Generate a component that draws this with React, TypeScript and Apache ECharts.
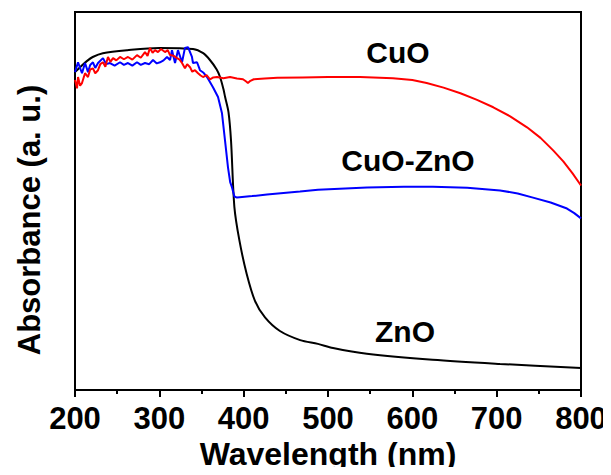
import React, { useEffect, useRef } from "react";
import * as echarts from "echarts";

const xTicks = [200, 300, 400, 500, 600, 700, 800];

const znoData: [number, number][] = [
  [200, 0.841], [206, 0.854], [214, 0.870], [221, 0.881], [233, 0.891], [262, 0.899],
  [300, 0.905], [340, 0.902], [352, 0.891], [360, 0.873], [368, 0.848], [372, 0.828],
  [376, 0.796], [378, 0.775], [382, 0.735], [385, 0.66], [389, 0.484], [395, 0.395],
  [403.6, 0.307], [413.4, 0.236], [425.3, 0.192], [443, 0.156], [467, 0.132],
  [488, 0.122], [506, 0.111], [546, 0.096], [624, 0.08], [704, 0.069], [800, 0.058],
];

const cuoData: [number, number][] = [
  [200, 0.82], [202.4, 0.798], [203.6, 0.828], [206, 0.805], [208.3, 0.812], [211.9, 0.838],
  [215.4, 0.828], [218, 0.848], [221.3, 0.851], [224, 0.838], [227.3, 0.846], [230, 0.862],
  [233.2, 0.867], [236, 0.855], [239.1, 0.881], [242, 0.868], [245.1, 0.878], [249, 0.872],
  [253.4, 0.881], [258, 0.875], [262.8, 0.881], [268, 0.874], [273.5, 0.886], [278, 0.879],
  [283, 0.894], [286, 0.884], [288.9, 0.905], [292, 0.892], [294.9, 0.899], [298.4, 0.894],
  [302, 0.902], [306.7, 0.894], [310, 0.899], [312.7, 0.886], [317, 0.884], [321, 0.878],
  [324, 0.874], [326.9, 0.865], [330.4, 0.851], [333, 0.862], [336.4, 0.854], [339, 0.842],
  [342.3, 0.846], [345.9, 0.838], [349, 0.832], [351.8, 0.828], [356, 0.833], [360.1, 0.822],
  [364, 0.827], [368.4, 0.828], [376, 0.825], [383.8, 0.828], [392, 0.824], [399.2, 0.822],
  [403, 0.816], [405, 0.812], [408, 0.818], [412, 0.822], [425, 0.824], [440, 0.826],
  [470, 0.827], [500, 0.828], [538, 0.828], [577, 0.825], [600, 0.82], [617, 0.812],
  [637, 0.8], [657, 0.785], [676, 0.768], [696, 0.748], [716, 0.724], [736, 0.695],
  [752, 0.667], [767, 0.634], [779, 0.605], [790, 0.573], [800, 0.541],
];

const cuoZnoData: [number, number][] = [
  [200, 0.841], [203.6, 0.867], [208.3, 0.838], [211.9, 0.865], [215.4, 0.841],
  [218, 0.86], [221.3, 0.867], [224, 0.852], [227.3, 0.865], [233.2, 0.878], [237, 0.862],
  [241.5, 0.865], [247, 0.858], [253.4, 0.867], [258, 0.86], [262.8, 0.865], [268, 0.858],
  [273.5, 0.867], [278, 0.86], [283, 0.865], [288, 0.862], [292.5, 0.873], [297, 0.864],
  [300.8, 0.867], [305, 0.872], [309.1, 0.881], [312.7, 0.873], [315, 0.899], [318.6, 0.865],
  [322.1, 0.899], [326.9, 0.867], [330.4, 0.905], [334, 0.907], [338.7, 0.881], [339.9, 0.865],
  [344.7, 0.867], [348.2, 0.846], [352, 0.84], [356.5, 0.828], [360, 0.815], [363.6, 0.801],
  [369.6, 0.775], [374.3, 0.732], [377.9, 0.66], [381.4, 0.589], [384, 0.55], [386.2, 0.536],
  [389, 0.512], [392.1, 0.509], [410, 0.513], [427.7, 0.517], [466.8, 0.525], [488.1, 0.53],
  [546.3, 0.536], [590, 0.538], [624.5, 0.538], [665, 0.535], [704, 0.528], [725, 0.52],
  [743.1, 0.509], [764, 0.496], [783.4, 0.48], [792, 0.468], [800, 0.454],
];

const seriesNames = ["CuO", "CuO-ZnO", "ZnO"];
const seriesColors = ["#ff0000", "#0000ff", "#000000"];

const FONT = "'Liberation Sans', Arial, sans-serif";

export default function App() {
  const ref = useRef<HTMLDivElement>(null);

  useEffect(() => {
    if (!ref.current) return;
    const chart = echarts.init(ref.current, undefined, { renderer: "svg" });
    const datasets = [cuoData, cuoZnoData, znoData];
    const labelStyle = { fontSize: 30, fontWeight: "bold", fill: "#000", fontFamily: FONT, align: "center", verticalAlign: "middle" };
    chart.setOption({
      animation: false,
      backgroundColor: "#ffffff",
      grid: {
        left: 75,
        right: 30,
        top: 12,
        bottom: 85,
        show: true,
        borderColor: "#000",
        borderWidth: 2,
      },
      xAxis: {
        type: "value",
        min: xTicks[0],
        max: xTicks[xTicks.length - 1],
        interval: 100,
        name: "Wavelength (nm)",
        nameLocation: "middle",
        nameGap: 48,
        nameMoveOverlap: false,
        nameTextStyle: { fontSize: 32, fontWeight: "bold", color: "#000", fontFamily: FONT },
        axisLine: { show: true, lineStyle: { color: "#000", width: 2 } },
        axisTick: { show: true, inside: false, length: 7, lineStyle: { color: "#000", width: 2 } },
        minorTick: { show: true, splitNumber: 2, length: 4, lineStyle: { color: "#000", width: 2 } },
        axisLabel: { fontSize: 31, fontWeight: "bold", color: "#000", fontFamily: FONT, margin: 13 },
        splitLine: { show: false },
        minorSplitLine: { show: false },
      },
      yAxis: {
        type: "value",
        min: 0,
        max: 1,
        axisLine: { show: true, lineStyle: { color: "#000", width: 2 } },
        axisTick: { show: false },
        axisLabel: { show: false },
        splitLine: { show: false },
      },
      series: datasets.map((d, i) => ({
        name: seriesNames[i],
        type: "line",
        data: d,
        showSymbol: false,
        symbol: "none",
        smooth: i === 2 ? 0.3 : false,
        lineStyle: { color: seriesColors[i], width: 2 },
        clip: true,
        z: 3 - i,
      })),
      graphic: [
        {
          type: "text",
          x: 29,
          y: 220,
          rotation: Math.PI / 2,
          style: { ...labelStyle, text: "Absorbance (a. u.)", fontSize: 31 },
        },
        { type: "text", x: 398, y: 52, style: { ...labelStyle, text: seriesNames[0] } },
        { type: "text", x: 408, y: 160, style: { ...labelStyle, text: seriesNames[1] } },
        { type: "text", x: 405, y: 331, style: { ...labelStyle, text: seriesNames[2] } },
      ],
    });
    return () => chart.dispose();
  }, []);

  return <div ref={ref} style={{ width: 611, height: 475, margin: -8 }} />;
}
